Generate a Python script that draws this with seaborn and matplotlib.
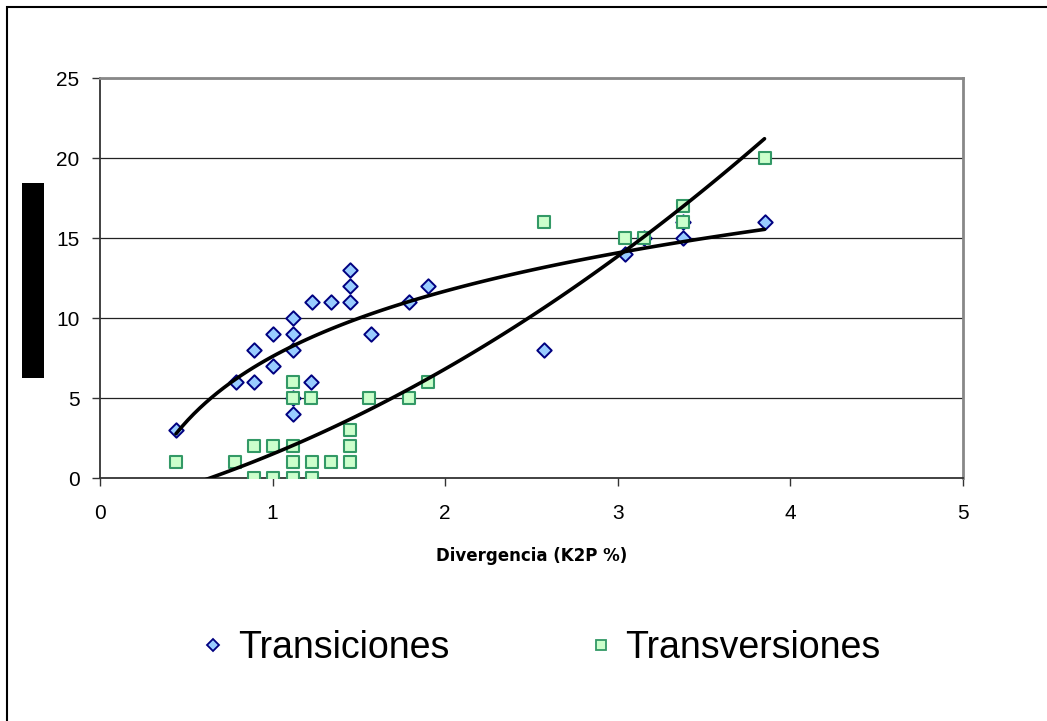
import numpy as np
import pandas as pd
import matplotlib
matplotlib.use("Agg")
import matplotlib.pyplot as plt
from matplotlib.patches import Rectangle
from matplotlib.lines import Line2D
import seaborn as sns

# ---- data ----
trans_x = [0.44, 0.79, 0.89, 0.89, 1.00, 1.00, 1.12, 1.12, 1.12, 1.12, 1.12, 1.22, 1.23,
           1.34, 1.45, 1.45, 1.45, 1.57, 1.79, 1.90, 2.57, 3.04, 3.15, 3.38, 3.38, 3.85]
trans_y = [3, 6, 6, 8, 7, 9, 10, 9, 8, 4, 5, 6, 11,
           11, 13, 12, 11, 9, 11, 12, 8, 14, 15, 15, 16, 16]

transv_x = [0.44, 0.78, 0.89, 0.89, 1.00, 1.00, 1.12, 1.12, 1.12, 1.12, 1.12, 1.22, 1.23, 1.23,
            1.34, 1.45, 1.45, 1.45, 1.56, 1.79, 1.90, 2.57, 3.04, 3.15, 3.38, 3.38, 3.85]
transv_y = [1, 1, 2, 0, 2, 0, 6, 5, 2, 1, 0, 5, 1, 0,
            1, 3, 2, 1, 5, 5, 6, 16, 15, 15, 17, 16, 20]

series_labels = ["Transiciones", "Transversiones"]
x_ticks = [0, 1, 2, 3, 4, 5]
y_ticks = [0, 5, 10, 15, 20, 25]
x_label = "Divergencia (K2P %)"

# ---- style ----
sns.set_style("white")
plt.rcParams["font.family"] = ["Liberation Sans", "DejaVu Sans"]

W, H = 1047, 721
fig = plt.figure(figsize=(W / 100, H / 100), dpi=100)
fig.patch.set_facecolor("white")
ax = fig.add_axes([100 / W, 1 - 478 / H, 863 / W, 400 / H])

blue_face, blue_edge = "#99CCFF", "#000080"
green_face, green_edge = "#CCFFCC", "#339966"

sns.scatterplot(x=trans_x, y=trans_y, marker="D", s=54, color=blue_face,
                edgecolor=blue_edge, linewidth=1.4, ax=ax, zorder=3)
sns.scatterplot(x=transv_x, y=transv_y, marker="s", s=72, color=green_face,
                edgecolor=green_edge, linewidth=1.5, ax=ax, zorder=4)

# trend lines (logarithmic & polynomial order 2, as in the original)
sns.regplot(x=trans_x, y=trans_y, logx=True, scatter=False, ci=None, truncate=True,
            color="black", line_kws={"lw": 2.6, "zorder": 5}, ax=ax)
sns.regplot(x=transv_x, y=transv_y, order=2, scatter=False, ci=None, truncate=True,
            color="black", line_kws={"lw": 2.6, "zorder": 5}, ax=ax)

ax.set_xlim(0, 5)
ax.set_ylim(0, 25)
ax.set_xticks(x_ticks)
ax.set_yticks(y_ticks)
ax.set_xticklabels([str(v) for v in x_ticks])
ax.set_yticklabels([str(v) for v in y_ticks])
ax.set_ylabel("")
ax.set_xlabel(x_label, fontsize=12, fontweight="bold", family="DejaVu Sans",
              color="black", labelpad=17)

ax.grid(False)
for yv in y_ticks[1:]:
    ax.axhline(yv, color="#222222", lw=0.9, zorder=1)

for side in ["left", "bottom"]:
    ax.spines[side].set_color("#333333")
    ax.spines[side].set_linewidth(1.3)
for side in ["top", "right"]:
    ax.spines[side].set_visible(True)
    ax.spines[side].set_color("#888888")
    ax.spines[side].set_linewidth(2.0)

ax.tick_params(axis="both", direction="out", length=5.8, width=1.0, color="#333333",
               labelsize=15, labelcolor="black")
ax.tick_params(axis="y", pad=9)
ax.tick_params(axis="x", pad=13)
ax.tick_params(left=True, bottom=True)

# legend
handles = [
    Line2D([], [], ls="none", marker="D", markersize=6.2, markerfacecolor=blue_face,
           markeredgecolor=blue_edge, markeredgewidth=1.3),
    Line2D([], [], ls="none", marker="s", markersize=7.0, markerfacecolor=green_face,
           markeredgecolor=green_edge, markeredgewidth=1.3),
]
fig.legend(handles, series_labels, loc="center left",
           bbox_to_anchor=(204 / W, 1 - 648 / H), ncol=2, frameon=False,
           fontsize=27, handlelength=0.5, handletextpad=0.4, columnspacing=3.8,
           borderpad=0, borderaxespad=0, labelcolor="black")

# outer chart border (extends past the right and bottom edges)
fig.add_artist(Rectangle((7 / W, -0.2), 2.0, 1 - 7 / H + 0.2, transform=fig.transFigure,
                         fill=False, edgecolor="black", lw=1.5))
# redacted y-axis title block
fig.add_artist(Rectangle((22 / W, 1 - 378 / H), 22 / W, 195 / H, transform=fig.transFigure,
                         facecolor="black", edgecolor="none"))

fig.savefig("out.png", dpi=100, facecolor="white")
